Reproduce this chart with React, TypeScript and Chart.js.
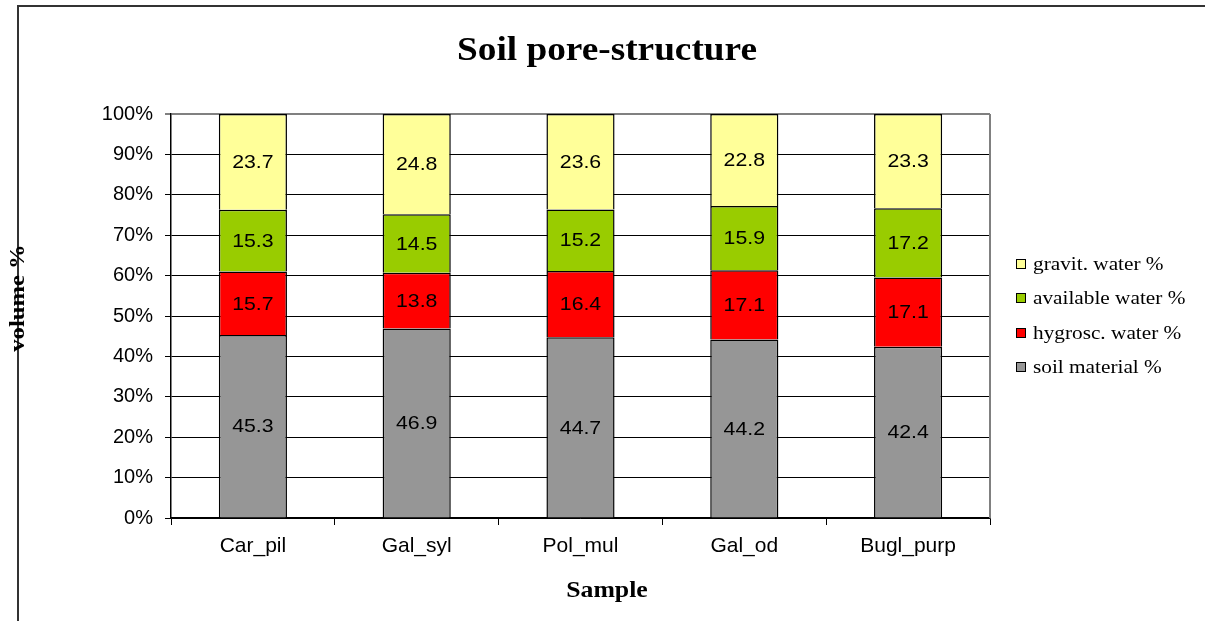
import React, { useEffect, useRef } from "react";
import { Chart, registerables } from "chart.js";

Chart.register(...registerables);

const categories = ["Car_pil", "Gal_syl", "Pol_mul", "Gal_od", "Bugl_purp"];
const soilMaterial = [45.3, 46.9, 44.7, 44.2, 42.4];
const hygroscWater = [15.7, 13.8, 16.4, 17.1, 17.1];
const availableWater = [15.3, 14.5, 15.2, 15.9, 17.2];
const gravitWater = [23.7, 24.8, 23.6, 22.8, 23.3];
const seriesNames = ["soil material %", "hygrosc. water %", "available water %", "gravit. water %"];
const seriesColors = ["#969696", "#FF0000", "#99CC00", "#FFFF99"];
const yTicks = [0, 10, 20, 30, 40, 50, 60, 70, 80, 90, 100];

const SANS = "'Liberation Sans', Arial, sans-serif";
const SERIF = "'Liberation Serif', 'Times New Roman', serif";

const allSeries = [soilMaterial, hygroscWater, availableWater, gravitWater];
const totals = categories.map((_, i) => allSeries.reduce((s, arr) => s + arr[i], 0));

function stretchText(ctx: any, text: string, x: number, y: number, sx: number) {
  ctx.save();
  ctx.translate(x, y);
  ctx.scale(sx, 1);
  ctx.fillText(text, 0, 0);
  ctx.restore();
}

const decorPlugin = {
  id: "decor",
  afterDraw(chart: any) {
    const { ctx, chartArea } = chart;
    ctx.save();
    // outer chart border (left/top)
    ctx.strokeStyle = "#333333";
    ctx.lineWidth = 2;
    ctx.beginPath();
    ctx.moveTo(18, 621);
    ctx.lineTo(18, 6);
    ctx.lineTo(1205, 6);
    ctx.stroke();
    // plot area right border
    ctx.strokeStyle = "#808080";
    ctx.lineWidth = 2;
    ctx.beginPath();
    ctx.moveTo(chartArea.right, chartArea.top);
    ctx.lineTo(chartArea.right, chartArea.bottom);
    ctx.stroke();

    // data labels
    ctx.fillStyle = "#000";
    ctx.font = `19px ${SANS}`;
    ctx.textAlign = "center";
    ctx.textBaseline = "middle";
    chart.data.datasets.forEach((ds: any, di: number) => {
      const meta = chart.getDatasetMeta(di);
      meta.data.forEach((bar: any, i: number) => {
        const y = (bar.y + bar.base) / 2;
        stretchText(ctx, String(allSeries[di][i]), bar.x, y + 1, 1.12);
      });
    });

    // title
    ctx.font = `bold 33px ${SERIF}`;
    stretchText(ctx, "Soil pore-structure", 607, 51, 1.13);
    // x title
    ctx.font = `bold 23px ${SERIF}`;
    stretchText(ctx, "Sample", 607, 591, 1.12);
    // y title
    ctx.save();
    ctx.translate(18, 298);
    ctx.rotate(-Math.PI / 2);
    ctx.font = `bold 22px ${SERIF}`;
    stretchText(ctx, "volume %", 0, 0, 1.12);
    ctx.restore();

    // legend
    const legendY = [264, 298, 333, 367];
    const order = [3, 2, 1, 0];
    ctx.font = `19px ${SERIF}`;
    ctx.textAlign = "left";
    order.forEach((si, k) => {
      const y = legendY[k];
      ctx.fillStyle = seriesColors[si];
      ctx.fillRect(1016, y - 5, 10, 10);
      ctx.strokeStyle = "#000";
      ctx.lineWidth = 1;
      ctx.strokeRect(1016.5, y - 4.5, 9, 9);
      ctx.fillStyle = "#000";
      stretchText(ctx, seriesNames[si], 1033, y + 1, 1.12);
    });
    ctx.restore();
  },
};

export default function App() {
  const ref = useRef<HTMLCanvasElement>(null);
  useEffect(() => {
    if (!ref.current) return;
    const chart = new Chart(ref.current, {
      type: "bar",
      data: {
        labels: categories,
        datasets: allSeries.map((arr, si) => ({
          label: seriesNames[si],
          data: arr.map((v, i) => (v / totals[i]) * 100),
          backgroundColor: seriesColors[si],
          borderColor: "#000000",
          borderWidth: 1.5,
          categoryPercentage: 1,
          barPercentage: 0.416,
        })),
      },
      options: {
        responsive: false,
        animation: false,
        layout: { padding: { top: 114, right: 215, left: 0, bottom: 0 } },
        plugins: { legend: { display: false }, title: { display: false }, tooltip: { enabled: false } },
        scales: {
          x: {
            stacked: true,
            grid: {
              display: true,
              drawOnChartArea: false,
              drawTicks: true,
              tickLength: 7,
              color: "#000",
              offset: true,
            },
            border: { color: "#000", width: 1.5 },
            ticks: { font: { family: SANS, size: 21 }, color: "#000", padding: 9 },
            afterFit: (scale: any) => {
              scale.height = 103;
            },
          },
          y: {
            stacked: true,
            min: 0,
            max: 100,
            afterBuildTicks: (scale: any) => {
              scale.ticks = yTicks.map((v) => ({ value: v }));
            },
            grid: {
              color: (c: any) => (c.tick && c.tick.value === 100 ? "#808080" : "#000"),
              lineWidth: (c: any) => (c.tick && c.tick.value === 100 ? 2 : 1),
              tickLength: 6,
              drawTicks: true,
            },
            border: { color: "#000", width: 1.5 },
            ticks: {
              font: { family: SANS, size: 20 },
              color: "#000",
              padding: 12,
              callback: (v: any) => `${v}%`,
            },
            afterFit: (scale: any) => {
              scale.width = 171;
            },
          },
        },
      },
      plugins: [decorPlugin],
    });
    return () => chart.destroy();
  }, []);
  return (
    <div style={{ position: "fixed", left: 0, top: 0, width: 1205, height: 621, background: "#fff" }}>
      <canvas ref={ref} width={1205} height={621} style={{ display: "block" }} />
    </div>
  );
}
